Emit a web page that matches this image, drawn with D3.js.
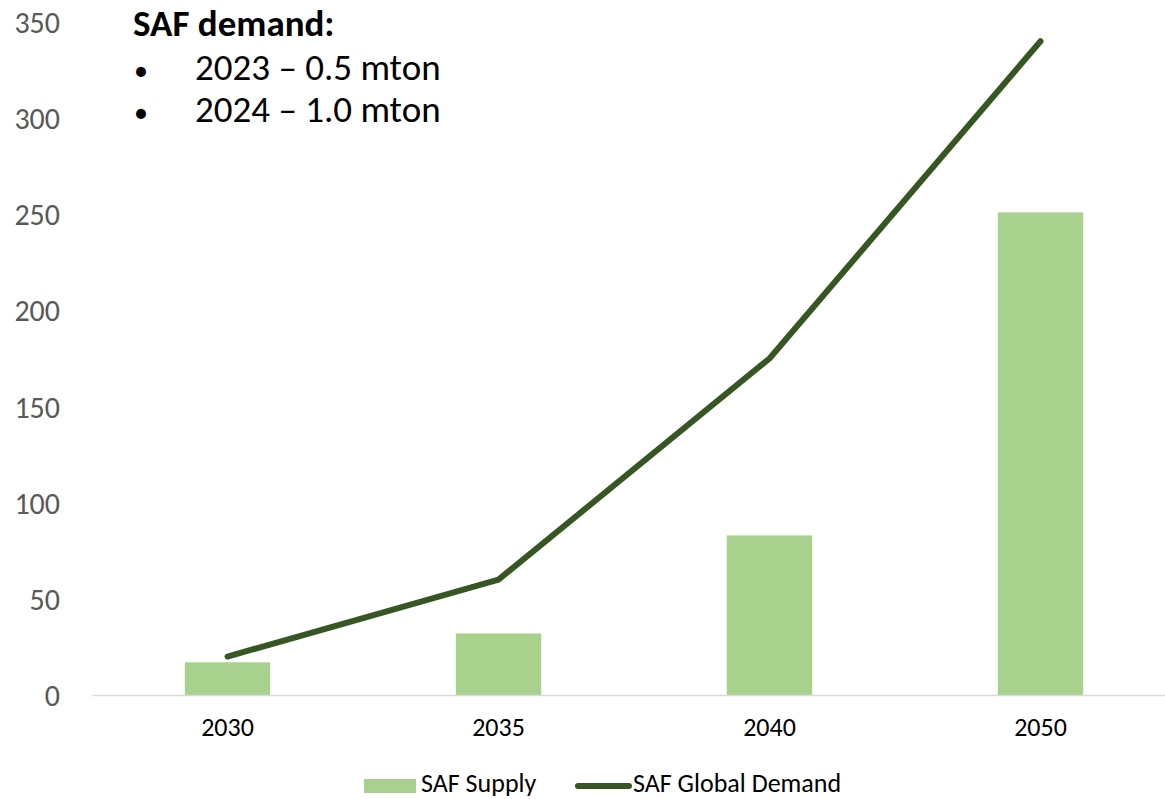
<!DOCTYPE html>
<html>
<head>
<meta charset="utf-8">
<script src="https://cdn.jsdelivr.net/npm/d3@7"></script>
<style>
  html, body { margin: 0; padding: 0; background: #fff; }
  svg { display: block; font-family: Carlito, Calibri, Lato, "Open Sans", sans-serif; }
</style>
</head>
<body>
<svg id="chart" width="1165" height="799"></svg>
<script>
// Chart data
const years = ["2030", "2035", "2040", "2050"];
const supply = [17, 32, 83, 251];
const demand = [20, 60, 175, 340];
const yTicks = [0, 50, 100, 150, 200, 250, 300, 350];
const noteTitle = "SAF demand:";
const noteLines = ["2023 \u2013 0.5 mton", "2024 \u2013 1.0 mton"];
const seriesNames = ["SAF Supply", "SAF Global Demand"];

const barColor = "#A9D18E";
const lineColor = "#375623";

const svg = d3.select("#chart");

const x = d3.scaleBand().domain(years).range([92, 1176]).paddingInner(0.685).paddingOuter(0.3425);
const y = d3.scaleLinear().domain([0, 350]).range([695, 22]);

// Y axis labels (no axis line)
const yAxis = svg.append("g")
  .attr("transform", "translate(60,0)")
  .call(d3.axisLeft(y).tickValues(yTicks).tickSize(0).tickPadding(0))
  .attr("font-family", null).attr("font-size", null);
yAxis.select(".domain").remove();
yAxis.selectAll("text")
  .attr("fill", "#595959")
  .style("font-size", "30px")
  .attr("dy", "0.35em");

// Bars
svg.append("g").selectAll("rect")
  .data(years)
  .join("rect")
  .attr("x", d => x(d))
  .attr("width", x.bandwidth())
  .attr("y", (d, i) => y(supply[i]))
  .attr("height", (d, i) => y(0) - y(supply[i]))
  .attr("fill", barColor);

// X axis
const xAxis = svg.append("g")
  .attr("transform", `translate(0,${y(0)})`)
  .call(d3.axisBottom(x).tickSize(0).tickPadding(23))
  .attr("font-family", null).attr("font-size", null);
xAxis.select(".domain").attr("stroke", "#d9d9d9").attr("stroke-width", 1.5);
xAxis.selectAll("text")
  .attr("fill", "#000")
  .style("font-size", "26px");

// Demand line
const line = d3.line()
  .x((d, i) => x(years[i]) + x.bandwidth() / 2)
  .y(d => y(d));
svg.append("path")
  .datum(demand)
  .attr("d", line)
  .attr("fill", "none")
  .attr("stroke", lineColor)
  .attr("stroke-width", 6)
  .attr("stroke-linecap", "round")
  .attr("stroke-linejoin", "round");

// Note block
const note = svg.append("g");
note.append("text")
  .attr("x", 133).attr("y", 36)
  .style("font-size", "37px").style("font-weight", "bold")
  .attr("fill", "#000")
  .text(noteTitle);
noteLines.forEach((t, i) => {
  const yy = 80 + i * 42;
  note.append("text")
    .attr("x", 134).attr("y", yy)
    .style("font-size", "28px").attr("fill", "#000")
    .text("\u2022");
  note.append("text")
    .attr("x", 195).attr("y", yy)
    .style("font-size", "37px").attr("fill", "#000")
    .text(t);
});

// Legend
const legend = svg.append("g");
legend.append("rect")
  .attr("x", 364).attr("y", 779).attr("width", 52).attr("height", 14)
  .attr("fill", barColor);
legend.append("text")
  .attr("x", 421).attr("y", 792)
  .style("font-size", "26px").attr("fill", "#000")
  .text(seriesNames[0]);
legend.append("line")
  .attr("x1", 578).attr("x2", 629).attr("y1", 786).attr("y2", 786)
  .attr("stroke", lineColor).attr("stroke-width", 6).attr("stroke-linecap", "round");
legend.append("text")
  .attr("x", 633).attr("y", 792)
  .style("font-size", "26px").attr("fill", "#000")
  .text(seriesNames[1]);
</script>
</body>
</html>
